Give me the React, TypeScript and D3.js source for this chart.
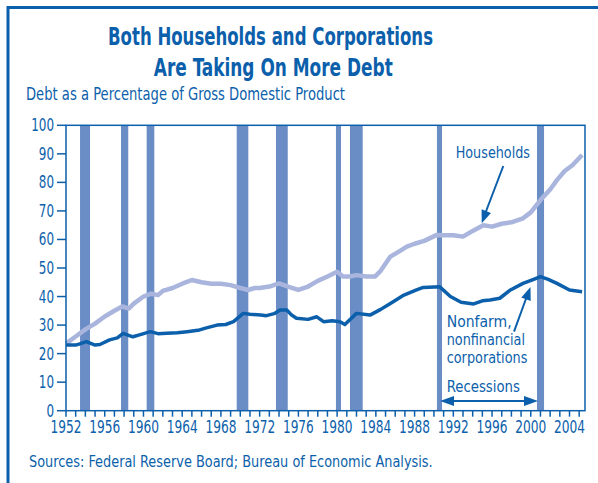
import React from "react";
import * as d3 from "d3";

const householdYears = [1952, 1953, 1954, 1955, 1956, 1957, 1957.8, 1958.5, 1959, 1960, 1960.8, 1961.5, 1962, 1963, 1964, 1965, 1966, 1967, 1968, 1969, 1970, 1970.8, 1971.5, 1972, 1973, 1974, 1975, 1976, 1977, 1978, 1979, 1980, 1980.6, 1981.3, 1982, 1983, 1983.9, 1984.5, 1985.5, 1986.5, 1987.2, 1988, 1989, 1990.3, 1991, 1992, 1993, 1994, 1995.1, 1996, 1997, 1998, 1999.2, 2000, 2001, 2002, 2002.7, 2003.5, 2004.3, 2005.3];
const householdValues = [23.5, 26, 28.5, 30.5, 33, 35, 36.5, 35.8, 37.5, 40, 41, 40.5, 42, 43, 44.5, 45.8, 45, 44.5, 44.5, 44, 43, 42.3, 43, 43, 43.5, 44.6, 43.4, 42.3, 43.5, 45.5, 47, 48.7, 47, 47, 47.5, 47, 47, 49, 54, 56, 57.5, 58.5, 59.5, 61.6, 61.5, 61.5, 61, 63, 65, 64.5, 65.5, 66, 67.4, 69.5, 73.8, 77.5, 80.8, 84, 86, 89.6];

const corporateYears = [1952, 1953, 1953.5, 1954.1, 1955, 1955.5, 1956.5, 1957.3, 1957.9, 1958.9, 1959.5, 1960.7, 1961.5, 1962.4, 1963.5, 1964.5, 1965.8, 1966.5, 1967.6, 1968.5, 1969.3, 1970.3, 1971, 1972.1, 1972.7, 1973.5, 1974.1, 1974.8, 1975.3, 1975.8, 1977, 1977.9, 1978.6, 1979.5, 1980.3, 1980.8, 1982, 1983.4, 1984.5, 1985.5, 1986.9, 1988.2, 1988.9, 1990.6, 1991.7, 1992.8, 1994.1, 1995, 1995.8, 1996.8, 1997.9, 1999.2, 2000.3, 2001, 2001.8, 2002.7, 2004, 2005.3];
const corporateValues = [23, 23, 23.5, 24.2, 23, 23.2, 24.8, 25.5, 27.1, 25.9, 26.5, 27.7, 27, 27.1, 27.3, 27.7, 28.3, 29, 30, 30.2, 31.2, 34.1, 33.8, 33.5, 33.3, 34, 35.3, 35.3, 33.5, 32.4, 32, 32.9, 31.2, 31.5, 31.2, 30.2, 34.1, 33.5, 35.5, 37.6, 40.5, 42.3, 43.2, 43.4, 40, 38, 37.4, 38.5, 38.8, 39.4, 42.3, 44.6, 46, 47, 46, 44.6, 42.3, 41.7];

const recessionStarts = [1953.45, 1957.68, 1960.33, 1969.63, 1973.69, 1979.88, 1981.33, 1990.31, 2000.64];
const recessionEnds = [1954.48, 1958.43, 1961.12, 1970.83, 1974.9, 1980.4, 1982.64, 1990.83, 2001.37];

const yTicks = [0, 10, 20, 30, 40, 50, 60, 70, 80, 90, 100];
const xTickLabels = [1952, 1956, 1960, 1964, 1968, 1972, 1976, 1980, 1984, 1988, 1992, 1996, 2000, 2004];

const BLUE = "#0c5fab";
const BAR = "#6a8dc6";
const LIGHT = "#a9b5dd";
const FONT = "'Liberation Sans Narrow', 'DejaVu Sans Condensed', 'Liberation Sans', sans-serif";

export default function App() {
  const W = 598, H = 483;
  const left = 66, right = 585, top = 125.3, bottom = 410.7;
  const x = d3.scaleLinear().domain([1952, 2005.6]).range([left, right]);
  const y = d3.scaleLinear().domain([0, 100]).range([bottom, top]);
  const line = d3.line<[number, number]>().x(d => x(d[0])).y(d => y(d[1]));
  const hh: [number, number][] = householdYears.map((yr, i) => [yr, householdValues[i]]);
  const corp: [number, number][] = corporateYears.map((yr, i) => [yr, corporateValues[i]]);
  const yearTicks = d3.range(1952, 2006);

  const arrowHead = (x1: number, y1: number, x2: number, y2: number, len = 13, half = 5) => {
    const a = Math.atan2(y2 - y1, x2 - x1);
    const bx = x2 - len * Math.cos(a), by = y2 - len * Math.sin(a);
    const px = -Math.sin(a) * half, py = Math.cos(a) * half;
    return `M${x2},${y2}L${bx + px},${by + py}L${bx - px},${by - py}Z`;
  };

  return (
    <svg width={W} height={H} style={{ position: "absolute", left: 0, top: 0 }} fontFamily={FONT}>
      <rect width={W} height={H} fill="#fff" />
      {/* outer frame */}
      <path d={`M8,${H}L8,7.5L${W},7.5`} fill="none" stroke={BLUE} strokeWidth={3} />
      {/* titles */}
      <text x={270.5} y={45} textAnchor="middle" fill={BLUE} fontSize={25} fontWeight="bold" textLength={325} lengthAdjust="spacingAndGlyphs">Both Households and Corporations</text>
      <text x={273.3} y={76} textAnchor="middle" fill={BLUE} fontSize={25} fontWeight="bold" textLength={239} lengthAdjust="spacingAndGlyphs">Are Taking On More Debt</text>
      <text x={26} y={100} fill={BLUE} fontSize={17.5} textLength={319} lengthAdjust="spacingAndGlyphs">Debt as a Percentage of Gross Domestic Product</text>

      {/* recession bars */}
      {recessionStarts.map((s, i) => (
        <rect key={i} x={x(s)} y={top} width={x(recessionEnds[i]) - x(s)} height={bottom - top} fill={BAR} />
      ))}

      {/* lines */}
      <path d={line(hh) || ""} fill="none" stroke={LIGHT} strokeWidth={4.5} strokeLinejoin="round" />
      <path d={line(corp) || ""} fill="none" stroke={BLUE} strokeWidth={3.5} strokeLinejoin="round" />

      {/* plot box */}
      <rect x={left} y={top} width={right - left} height={bottom - top} fill="none" stroke={BLUE} strokeWidth={1.5} />

      {/* y axis */}
      {yTicks.map(t => (
        <g key={t}>
          <line x1={57} x2={left} y1={y(t)} y2={y(t)} stroke={BLUE} strokeWidth={1.5} />
          <text x={54} y={y(t) + 6} textAnchor="end" fill={BLUE} fontSize={17} textLength={String(t).length * 7.6} lengthAdjust="spacingAndGlyphs">{t}</text>
        </g>
      ))}
      {/* x axis */}
      {yearTicks.map(t => (
        <line key={t} x1={x(t)} x2={x(t)} y1={bottom} y2={bottom + 6} stroke={BLUE} strokeWidth={1.5} />
      ))}
      {xTickLabels.map(t => (
        <text key={t} x={x(t)} y={433} textAnchor="middle" fill={BLUE} fontSize={17} textLength={31} lengthAdjust="spacingAndGlyphs">{t}</text>
      ))}

      {/* annotations */}
      <text x={455.7} y={158.3} fill={BLUE} fontSize={15.5} textLength={74.3} lengthAdjust="spacingAndGlyphs">Households</text>
      <line x1={503.3} y1={166} x2={485} y2={214} stroke={BLUE} strokeWidth={2} />
      <path d={arrowHead(503.3, 166, 481.7, 223.3)} fill={BLUE} />

      <text x={446.7} y={326.7} fill={BLUE} fontSize={15.5} textLength={65} lengthAdjust="spacingAndGlyphs">Nonfarm,</text>
      <text x={446.7} y={345} fill={BLUE} fontSize={15.5} textLength={78.3} lengthAdjust="spacingAndGlyphs">nonfinancial</text>
      <text x={446.7} y={363.3} fill={BLUE} fontSize={15.5} textLength={80.7} lengthAdjust="spacingAndGlyphs">corporations</text>
      <line x1={514} y1={331.7} x2={527} y2={296} stroke={BLUE} strokeWidth={2} />
      <path d={arrowHead(514, 331.7, 530.5, 287)} fill={BLUE} />

      <text x={446.7} y={391.7} fill={BLUE} fontSize={15.5} textLength={73.3} lengthAdjust="spacingAndGlyphs">Recessions</text>
      <line x1={450} y1={401} x2={528} y2={401} stroke={BLUE} strokeWidth={2} />
      <path d={arrowHead(500, 401, 538, 401, 14, 5)} fill={BLUE} />
      <path d={arrowHead(480, 401, 440, 401, 14, 5)} fill={BLUE} />

      <text x={29} y={466.7} fill={BLUE} fontSize={15} textLength={403.7} lengthAdjust="spacingAndGlyphs">Sources: Federal Reserve Board; Bureau of Economic Analysis.</text>
    </svg>
  );
}
